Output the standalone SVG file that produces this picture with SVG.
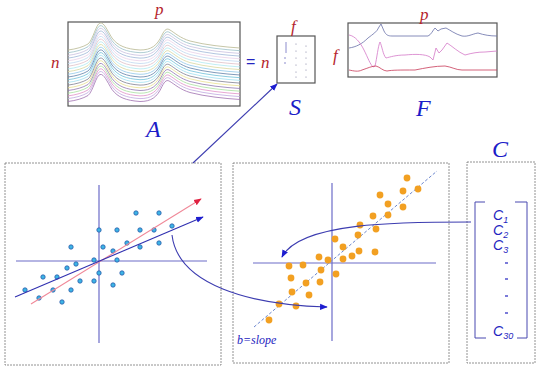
<svg xmlns="http://www.w3.org/2000/svg" width="543" height="371" viewBox="0 0 543 371">
<style>
.red{fill:#b5242c;font-family:"Liberation Serif",serif;font-style:italic}
.big{fill:#1c1cc8;font-family:"Liberation Serif",serif;font-style:italic;font-size:24px}
.box{fill:#fff;stroke:#555;stroke-width:1.2}
.panel{fill:#fff;stroke:#777;stroke-width:0.8;stroke-dasharray:2,1}
.axis{stroke:#6c6cc8;stroke-width:1.2;fill:none}
.bd{fill:#3cb4e6;stroke:#2a5aa8;stroke-width:0.8}
.od{fill:#f2a022}
.sp{fill:none;stroke-width:0.8}
.cl{fill:#2424c0;font-family:"Liberation Sans",sans-serif;font-style:italic;font-size:14px}
.conn{fill:none;stroke:#3c3cb0;stroke-width:1.1}
</style>
<defs>
<marker id="ab" viewBox="0 0 10 10" refX="9" refY="5" markerWidth="7" markerHeight="7" orient="auto"><path d="M0,1 L10,5 L0,9 Z" fill="#1e1ed0"/></marker>
<marker id="ar" viewBox="0 0 10 10" refX="9" refY="5" markerWidth="7" markerHeight="7" orient="auto"><path d="M0,1 L10,5 L0,9 Z" fill="#e02040"/></marker>
<path id="spec" d="M68,0 C76,-1 83,-3 88,-6 C93,-10 96,-26 100,-27 C104,-28 107,-20 112,-12 C118,-4 126,-1 140,0 C151,0 157,-4 162,-15 C165,-21 167,-22 170,-20 C175,-17 180,-12 190,-9 C205,-5 225,-3 240,-2"/>
</defs>

<g id="matrixA">
<rect class="box" x="68" y="22" width="172" height="84"/>
<g class="sp">
<use href="#spec" transform="translate(0,50)" stroke="#b8b890"/>
<use href="#spec" transform="translate(0,52.7)" stroke="#9ac0c8"/>
<use href="#spec" transform="translate(0,55.4)" stroke="#c8c0e0"/>
<use href="#spec" transform="translate(0,58.1)" stroke="#a0b8d8"/>
<use href="#spec" transform="translate(0,60.8)" stroke="#e8d0e8"/>
<use href="#spec" transform="translate(0,63.5)" stroke="#c0d8f0"/>
<use href="#spec" transform="translate(0,66.2)" stroke="#e0c0c8"/>
<use href="#spec" transform="translate(0,68.9)" stroke="#b0e8f0"/>
<use href="#spec" transform="translate(0,71.6)" stroke="#d8d8a0"/>
<use href="#spec" transform="translate(0,74.3)" stroke="#90c8e8"/>
<use href="#spec" transform="translate(0,77)" stroke="#6080a8"/>
<use href="#spec" transform="translate(0,79.7)" stroke="#70c0d8"/>
<use href="#spec" transform="translate(0,82.4)" stroke="#a0e0f0"/>
<use href="#spec" transform="translate(0,85.1)" stroke="#808090"/>
<use href="#spec" transform="translate(0,87.8)" stroke="#e8e090"/>
<use href="#spec" transform="translate(0,90.5)" stroke="#9078b0"/>
<use href="#spec" transform="translate(0,93.2)" stroke="#a8e0a0"/>
<use href="#spec" transform="translate(0,95.9)" stroke="#e090c8"/>
<use href="#spec" transform="translate(0,98.6)" stroke="#c0a8e0"/>
<use href="#spec" transform="translate(0,101.5)" stroke="#a070b0"/>
</g>
<text class="red" x="155" y="15" font-size="17">p</text>
<text class="red" x="51" y="68" font-size="17">n</text>
<text class="big" x="146" y="137">A</text>
</g>

<g id="equals">
<text x="246" y="67" font-family="Liberation Sans,sans-serif" font-size="16" fill="#2424c0">=</text>
</g>

<g id="matrixS">
<rect class="box" x="277" y="36" width="38" height="47"/>
<g stroke="#7070c0" stroke-width="0.8">
<line x1="286" y1="42" x2="286" y2="53"/>
<line x1="284" y1="58" x2="286" y2="58"/>
<line x1="284" y1="63" x2="286" y2="63"/>
</g>
<g fill="#8080a0">
<circle cx="296" cy="44" r="0.6"/><circle cx="296" cy="51" r="0.6"/><circle cx="296" cy="58" r="0.6"/><circle cx="296" cy="65" r="0.6"/><circle cx="296" cy="72" r="0.6"/><circle cx="296" cy="77" r="0.6"/>
<circle cx="306" cy="46" r="0.6"/><circle cx="306" cy="52" r="0.6"/><circle cx="306" cy="58" r="0.6"/><circle cx="306" cy="64" r="0.6"/><circle cx="306" cy="70" r="0.6"/><circle cx="306" cy="77" r="0.6"/>
</g>
<text class="red" x="291" y="32" font-size="17">f</text>
<text class="red" x="261" y="68" font-size="17">n</text>
<text class="big" x="289" y="115">S</text>
</g>

<g id="matrixF">
<rect class="box" x="348" y="23" width="149" height="54"/>
<path class="sp" stroke="#6870a8" d="M349,48 C356,47 362,44 368,38 C373,34 377,32 379,27 L381,24 L384,31 C386,35 388,36 392,36 L428,36 C431,35 433,30 435,28 L438,31 L441,29 L446,28 C450,30 455,34 462,36 C468,37 472,34 478,33 C484,35 490,36 497,36"/>
<path class="sp" stroke="#d478c8" d="M349,35 C355,36 360,42 364,50 C368,58 370,64 373,67 L375,66 C377,58 378,46 380,42 C382,46 383,55 386,58 C390,57 396,55 405,55 C415,54 425,54 430,57 L433,60 L436,48 L439,53 L442,50 L447,43 C452,46 458,52 465,55 C472,53 478,52 485,52 L497,51"/>
<path class="sp" stroke="#c83a58" d="M349,70 C354,71 358,72 362,70 C368,68 372,66 376,66 C380,67 383,71 387,71 C392,70 400,70 415,70 C425,68 435,66 445,66 C452,67 456,70 462,70 L497,70"/>
<text class="red" x="420" y="20" font-size="17">p</text>
<text class="red" x="333" y="61" font-size="17">f</text>
<text class="big" x="416" y="116">F</text>
</g>

<g id="panel1">
<rect class="panel" x="5" y="163" width="216" height="202"/>
<line class="axis" x1="99" y1="185" x2="99" y2="343"/>
<line class="axis" x1="16" y1="261" x2="207" y2="261"/>
<g>
<circle class="bd" cx="136" cy="213" r="2.2"/><circle class="bd" cx="159" cy="213" r="2.2"/>
<circle class="bd" cx="99" cy="230" r="2.2"/><circle class="bd" cx="117" cy="230" r="2.2"/>
<circle class="bd" cx="140" cy="230" r="2.2"/><circle class="bd" cx="154" cy="230" r="2.2"/>
<circle class="bd" cx="172" cy="226" r="2.2"/><circle class="bd" cx="71" cy="247" r="2.2"/>
<circle class="bd" cx="103" cy="247" r="2.2"/><circle class="bd" cx="113" cy="251" r="2.2"/>
<circle class="bd" cx="127" cy="243" r="2.2"/><circle class="bd" cx="140" cy="247" r="2.2"/>
<circle class="bd" cx="159" cy="243" r="2.2"/><circle class="bd" cx="94" cy="260" r="2.2"/>
<circle class="bd" cx="117" cy="260" r="2.2"/><circle class="bd" cx="76" cy="264" r="2.2"/>
<circle class="bd" cx="67" cy="268" r="2.2"/><circle class="bd" cx="99" cy="273" r="2.2"/>
<circle class="bd" cx="122" cy="273" r="2.2"/><circle class="bd" cx="43" cy="277" r="2.2"/>
<circle class="bd" cx="57" cy="277" r="2.2"/><circle class="bd" cx="80" cy="281" r="2.2"/>
<circle class="bd" cx="94" cy="281" r="2.2"/><circle class="bd" cx="113" cy="285" r="2.2"/>
<circle class="bd" cx="25" cy="290" r="2.2"/><circle class="bd" cx="53" cy="290" r="2.2"/>
<circle class="bd" cx="71" cy="290" r="2.2"/><circle class="bd" cx="39" cy="298" r="2.2"/>
<circle class="bd" cx="62" cy="302" r="2.2"/>
</g>
<line x1="31" y1="304" x2="201" y2="199" stroke="#f08898" stroke-width="1.1" marker-end="url(#ar)"/>
<line x1="15" y1="297" x2="203" y2="217" stroke="#3030b0" stroke-width="1.1" marker-end="url(#ab)"/>
</g>

<g id="panel2">
<rect class="panel" x="233" y="163" width="216" height="200"/>
<line class="axis" x1="332" y1="183" x2="332" y2="341"/>
<line class="axis" x1="253" y1="263" x2="436" y2="263"/>
<line x1="254" y1="327" x2="437" y2="171" stroke="#5a78c8" stroke-width="0.9" stroke-dasharray="3,2"/>
<g class="od">
<circle cx="407" cy="178" r="3.4"/><circle cx="403" cy="191" r="3.4"/><circle cx="418" cy="189" r="3.4"/>
<circle cx="380" cy="195" r="3.4"/><circle cx="388" cy="204" r="3.4"/><circle cx="403" cy="207" r="3.4"/>
<circle cx="373" cy="216" r="3.4"/><circle cx="388" cy="215" r="3.4"/><circle cx="360" cy="225" r="3.4"/>
<circle cx="376" cy="229" r="3.4"/><circle cx="358" cy="235" r="3.4"/><circle cx="335" cy="239" r="3.4"/>
<circle cx="343" cy="247" r="3.4"/><circle cx="359" cy="251" r="3.4"/><circle cx="375" cy="252" r="3.4"/>
<circle cx="352" cy="256" r="3.4"/><circle cx="343" cy="259" r="3.4"/><circle cx="319" cy="257" r="3.4"/>
<circle cx="328" cy="260" r="3.4"/><circle cx="289" cy="266" r="3.4"/><circle cx="303" cy="265" r="3.4"/>
<circle cx="321" cy="270" r="3.4"/><circle cx="336" cy="274" r="3.4"/><circle cx="291" cy="278" r="3.4"/>
<circle cx="306" cy="283" r="3.4"/><circle cx="320" cy="282" r="3.4"/><circle cx="292" cy="292" r="3.4"/>
<circle cx="309" cy="295" r="3.4"/><circle cx="279" cy="304" r="3.4"/><circle cx="296" cy="306" r="3.4"/>
<circle cx="269" cy="320" r="3.4"/>
</g>
<text x="237" y="344" fill="#2424c0" font-family="Liberation Serif,serif" font-style="italic" font-size="12">b=slope</text>
</g>

<g id="panel3">
<rect class="panel" x="467" y="162" width="68" height="201"/>
<path d="M485,202 H475 V338 H486 M515,202 H527 V338 H517" fill="none" stroke="#4848b0" stroke-width="1"/>
<text class="cl" x="493" y="220">C<tspan font-size="9" dy="3">1</tspan></text>
<text class="cl" x="493" y="235">C<tspan font-size="9" dy="3">2</tspan></text>
<text class="cl" x="493" y="250">C<tspan font-size="9" dy="3">3</tspan></text>
<g stroke="#2424c0" stroke-width="1.2">
<line x1="505" y1="263" x2="508" y2="263"/>
<line x1="505" y1="279" x2="508" y2="279"/>
<line x1="505" y1="296" x2="508" y2="296"/>
<line x1="505" y1="313" x2="508" y2="313"/>
</g>
<text class="cl" x="493" y="336">C<tspan font-size="9" dy="3">30</tspan></text>
<text class="big" x="492" y="157">C</text>
</g>

<g id="connectors">
<line class="conn" x1="193" y1="163" x2="277" y2="84" marker-end="url(#ab)"/>
<path class="conn" d="M172,235 C178,285 250,305 327,307" marker-end="url(#ab)"/>
<path class="conn" d="M471,222 C400,222 300,222 282,257" marker-end="url(#ab)"/>
</g>
</svg>
